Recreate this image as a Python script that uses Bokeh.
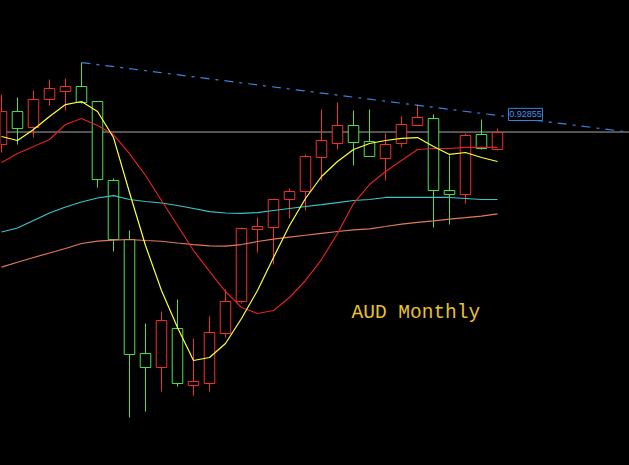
import numpy as np
from bokeh.plotting import figure
from bokeh.models import Range1d, Span, Label, GlobalInlineStyleSheet
from bokeh.embed import file_html
from bokeh.resources import INLINE

# ---- data (AUD monthly) ----
bars = list(range(32))
open_ = [0.8958, 0.9317, 0.9143, 0.9448, 0.9535, 0.9589, 0.9426, 0.8567,
         0.7925, 0.6684, 0.6532, 0.6956, 0.6336, 0.6358, 0.6902, 0.7250,
         0.8033, 0.8055, 0.8360, 0.8447, 0.8817, 0.8969, 0.9165, 0.8991,
         0.8806, 0.8969, 0.9165, 0.9241, 0.8458, 0.8414, 0.9067, 0.8904]
high = [0.9502, 0.9470, 0.9546, 0.9665, 0.9676, 0.9850, 0.9426, 0.8588,
        0.8023, 0.7011, 0.7141, 0.7272, 0.6848, 0.7087, 0.7381, 0.8055,
        0.8164, 0.8360, 0.8480, 0.8850, 0.9339, 0.9415, 0.9328, 0.9339,
        0.9078, 0.9263, 0.9393, 0.9285, 0.8839, 0.9078, 0.9230, 0.9132]
low = [0.8871, 0.8958, 0.9034, 0.9383, 0.9328, 0.9404, 0.8490, 0.7794,
       0.5988, 0.6053, 0.6271, 0.6325, 0.6227, 0.6271, 0.6858, 0.7228,
       0.7783, 0.7653, 0.8153, 0.8240, 0.8567, 0.8904, 0.8730, 0.8828,
       0.8567, 0.8926, 0.9165, 0.8055, 0.8088, 0.8316, 0.8904, 0.8893]
close = [0.9317, 0.9132, 0.9448, 0.9568, 0.9589, 0.9415, 0.8577, 0.7925,
         0.6673, 0.6532, 0.7043, 0.6358, 0.6380, 0.6913, 0.7250, 0.8044,
         0.8066, 0.8360, 0.8447, 0.8828, 0.9002, 0.9165, 0.8980, 0.8828,
         0.8958, 0.9176, 0.9252, 0.8458, 0.8414, 0.9056, 0.8915, 0.9089]

ma_yellow = [0.9045, 0.9002, 0.9121, 0.9263, 0.9393, 0.9426, 0.9317, 0.9034,
             0.8436, 0.7859, 0.7370, 0.6967, 0.6608, 0.6641, 0.6793, 0.7065,
             0.7370, 0.7729, 0.8077, 0.8371, 0.8610, 0.8773, 0.8904, 0.8969,
             0.9002, 0.9024, 0.9034, 0.8937, 0.8850, 0.8871, 0.8817, 0.8773]
ma_red = [0.8762, 0.8860, 0.8937, 0.9013, 0.9176, 0.9241, 0.9165, 0.9067,
          0.8860, 0.8621, 0.8349, 0.8077, 0.7805, 0.7577, 0.7359, 0.7185,
          0.7120, 0.7152, 0.7294, 0.7479, 0.7707, 0.7990, 0.8316, 0.8523,
          0.8665, 0.8784, 0.8904, 0.8915, 0.8915, 0.8926, 0.8926, 0.8926]
ma_cyan = [0.8006, 0.8050, 0.8131, 0.8213, 0.8278, 0.8333, 0.8376, 0.8403,
           0.8360, 0.8338, 0.8322, 0.8295, 0.8262, 0.8229, 0.8213, 0.8208,
           0.8218, 0.8240, 0.8262, 0.8284, 0.8305, 0.8327, 0.8349, 0.8360,
           0.8382, 0.8382, 0.8382, 0.8382, 0.8382, 0.8371, 0.8360, 0.8360]
ma_orange = [0.7625, 0.7677, 0.7729, 0.7778, 0.7827, 0.7881, 0.7908, 0.7919,
             0.7925, 0.7914, 0.7906, 0.7887, 0.7870, 0.7856, 0.7852, 0.7870,
             0.7903, 0.7928, 0.7950, 0.7971, 0.7992, 0.8012, 0.8030, 0.8041,
             0.8066, 0.8092, 0.8112, 0.8128, 0.8147, 0.8162, 0.8180, 0.8204]

trend_x = [5, 39.25]
trend_y = [0.9850, 0.9092]
current_line = 0.9094
label_value = 0.92855
title_text = "AUD  Monthly"

# ---- figure ----
p = figure(width=629, height=465, output_backend="svg", toolbar_location=None,
           x_range=Range1d(-0.0625, 39.25), y_range=Range1d(0.5466, 1.0525),
           x_axis_type=None, y_axis_type=None, min_border=0)
p.background_fill_color = "#000000"
p.border_fill_color = "#000000"
p.outline_line_color = None
p.grid.visible = False
p.stylesheets = [GlobalInlineStyleSheet(css="html, body { background-color: #000000; }")]

p.add_layout(Span(location=current_line, dimension="width", line_color="#a8a8a8",
                  line_width=1, level="underlay"))

o = np.array(open_)
c = np.array(close)
colors = ["#f0302c" if cc >= oo else "#4ee04a" for oo, cc in zip(o, c)]
top = np.maximum(o, c)
bot = np.minimum(o, c)

p.segment(x0=bars, y0=high, x1=bars, y1=low, line_color=colors, line_width=1)
p.vbar(x=bars, width=0.66, top=top, bottom=bot, fill_color="#000000",
       line_color=colors, line_width=1)

p.line(bars, ma_orange, line_color="#e07a5a", line_width=1.2)
p.line(bars, ma_cyan, line_color="#3cc4c8", line_width=1.2)
p.line(bars, ma_red, line_color="#e02222", line_width=1.2)
p.line(bars, ma_yellow, line_color="#ffff3c", line_width=1.2)

p.line(trend_x, trend_y, line_color="#3c80e0", line_width=1.2, line_dash="9 6 3 6")

# price tag for the last bar
lx = bars[-1] + 0.69
p.quad(left=[lx], right=[lx + 2.12], top=[label_value + 0.0066],
       bottom=[label_value - 0.0066], fill_color="#000000",
       line_color="#3c80e0", line_width=1)
p.add_layout(Label(x=lx + 1.06, y=label_value, text=f"{label_value:.5f}",
                   text_align="center", text_baseline="middle",
                   text_font="Liberation Sans", text_font_size="9px",
                   text_color="#4a90f0"))

p.add_layout(Label(x=21.875, y=0.7241, text=title_text, text_baseline="top",
                   text_font="Liberation Mono", text_font_size="19.5px",
                   text_color="#e8c22c"))

open("out.html", "w").write(file_html(p, INLINE))
